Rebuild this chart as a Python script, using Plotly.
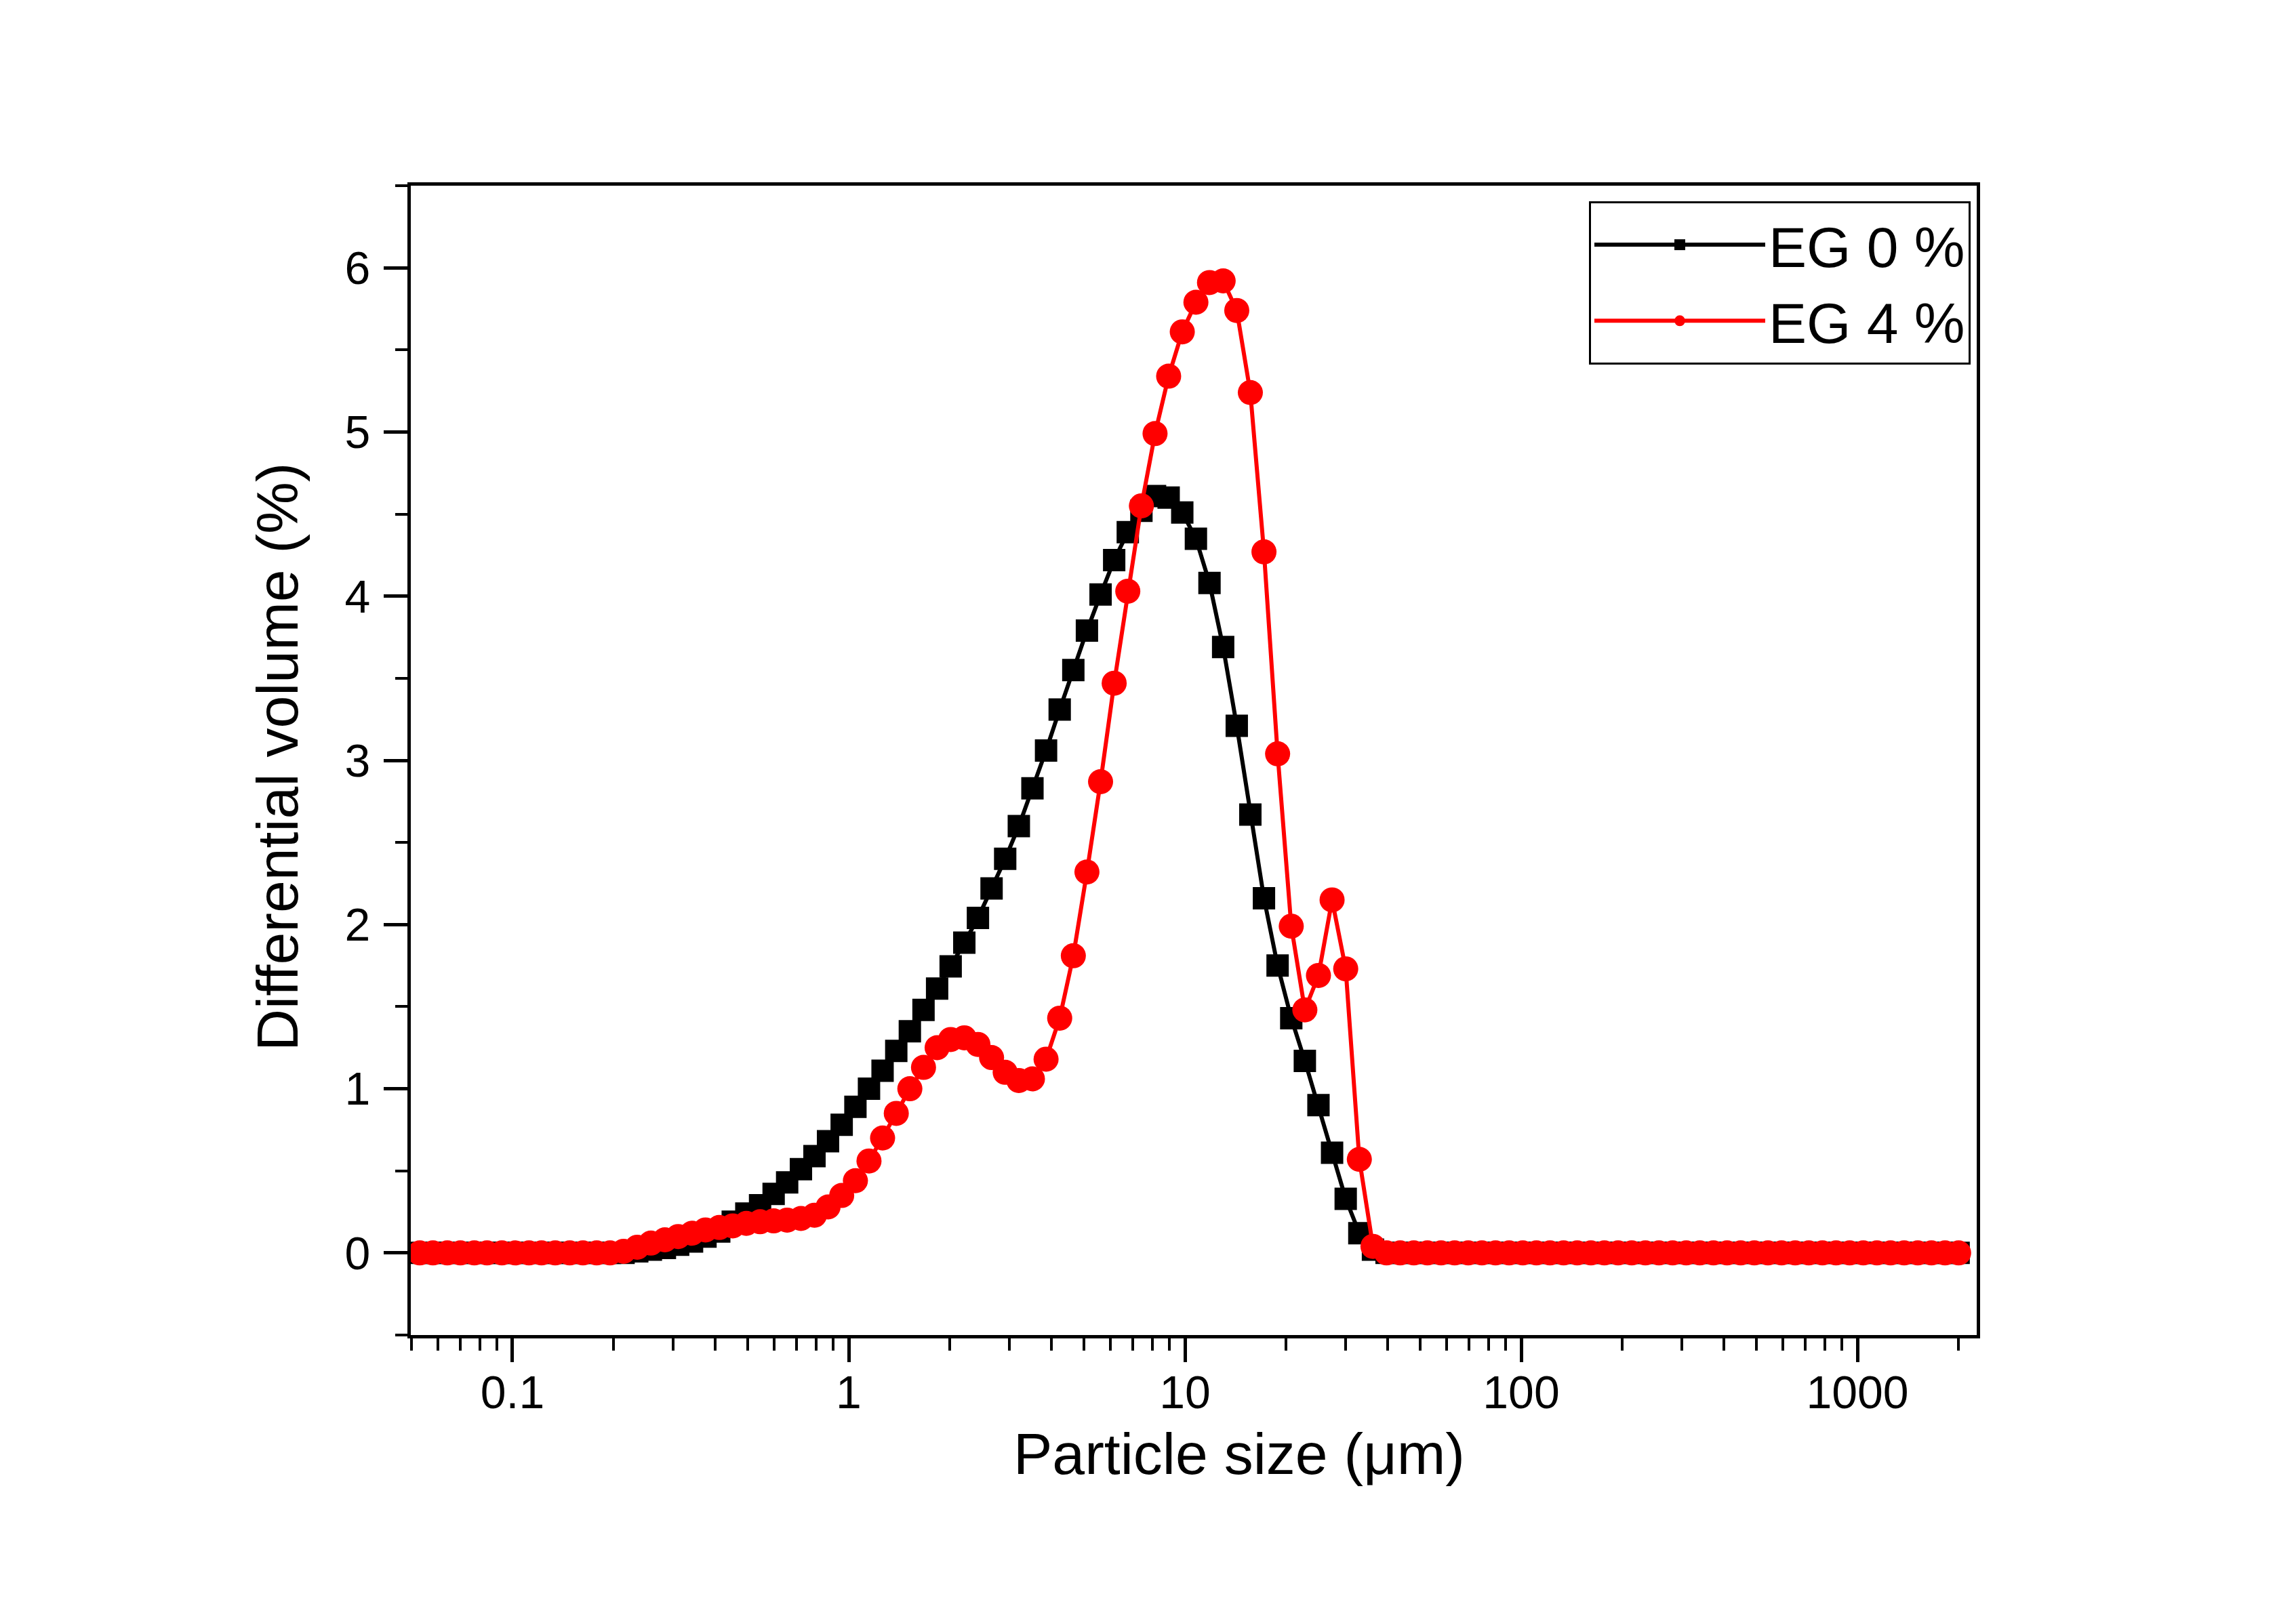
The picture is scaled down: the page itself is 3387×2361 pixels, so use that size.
import plotly.graph_objects as go

# Particle-size channels (µm)
sizes = [0.053, 0.058, 0.064, 0.070, 0.077, 0.084, 0.093, 0.102, 0.112, 0.122,
         0.134, 0.148, 0.162, 0.178, 0.195, 0.214, 0.235, 0.258, 0.284, 0.311,
         0.342, 0.375, 0.412, 0.452, 0.496, 0.545, 0.598, 0.656, 0.721, 0.791,
         0.868, 0.953, 1.047, 1.149, 1.261, 1.385, 1.520, 1.669, 1.832, 2.010,
         2.207, 2.423, 2.660, 2.920, 3.206, 3.519, 3.863, 4.241, 4.656, 5.111,
         5.611, 6.159, 6.761, 7.422, 8.148, 8.944, 9.819, 10.78, 11.83, 12.99,
         14.26, 15.65, 17.18, 18.86, 20.71, 22.73, 24.95, 27.39, 30.07, 33.01,
         36.24, 39.78, 43.67, 47.94, 52.62, 57.77, 63.41, 69.61, 76.42, 83.89,
         92.09, 101.1, 111.0, 121.8, 133.7, 146.8, 161.2, 176.8, 194.2, 213.2,
         234.1, 256.9, 282.1, 309.6, 339.9, 373.1, 409.6, 449.7, 493.6, 541.9,
         594.9, 653.0, 716.8, 786.9, 863.9, 948.3, 1041, 1143, 1255, 1377,
         1512, 1660, 1822, 2000]

eg0 = [0, 0, 0, 0, 0, 0, 0, 0, 0, 0,
       0, 0, 0, 0, 0, 0, 0.01, 0.02, 0.03, 0.05,
       0.07, 0.10, 0.13, 0.19, 0.24, 0.29, 0.36, 0.43, 0.51, 0.59,
       0.68, 0.78, 0.89, 1.00, 1.11, 1.23, 1.35, 1.48, 1.61, 1.745,
       1.89, 2.04, 2.22, 2.40, 2.60, 2.83, 3.06, 3.31, 3.55, 3.79,
       4.01, 4.22, 4.39, 4.52, 4.61, 4.60, 4.51, 4.35, 4.08, 3.69,
       3.21, 2.67, 2.16, 1.75, 1.43, 1.17, 0.90, 0.61, 0.33, 0.12,
       0.02, 0, 0, 0, 0, 0, 0, 0, 0, 0,
       0, 0, 0, 0, 0, 0, 0, 0, 0, 0,
       0, 0, 0, 0, 0, 0, 0, 0, 0, 0,
       0, 0, 0, 0, 0, 0, 0, 0, 0, 0,
       0, 0, 0, 0]

eg4 = [0, 0, 0, 0, 0, 0, 0, 0, 0, 0,
       0, 0, 0, 0, 0, 0.01, 0.035, 0.06, 0.08, 0.10,
       0.12, 0.14, 0.155, 0.165, 0.18, 0.19, 0.195, 0.20, 0.21, 0.23,
       0.28, 0.35, 0.44, 0.56, 0.70, 0.85, 1.00, 1.13, 1.25, 1.30,
       1.31, 1.27, 1.19, 1.10, 1.05, 1.06, 1.18, 1.43, 1.81, 2.32,
       2.87, 3.47, 4.03, 4.55, 4.99, 5.34, 5.61, 5.79, 5.91, 5.92,
       5.74, 5.24, 4.27, 3.04, 1.99, 1.48, 1.69, 2.15, 1.73, 0.57,
       0.04, 0, 0, 0, 0, 0, 0, 0, 0, 0,
       0, 0, 0, 0, 0, 0, 0, 0, 0, 0,
       0, 0, 0, 0, 0, 0, 0, 0, 0, 0,
       0, 0, 0, 0, 0, 0, 0, 0, 0, 0,
       0, 0, 0, 0]

x_ticks = [0.1, 1, 10, 100, 1000]
x_ticktext = ["0.1", "1", "10", "100", "1000"]
x_minor = [m * 10 ** e for e in range(-2, 4) for m in range(2, 10)
           if 0.05 <= m * 10 ** e <= 2200]
y_ticks = [0, 1, 2, 3, 4, 5, 6]
y_minor = [-0.5, 0.5, 1.5, 2.5, 3.5, 4.5, 5.5, 6.5]

FONT = "Arial, Liberation Sans, sans-serif"

fig = go.Figure()
fig.add_trace(go.Scatter(
    x=sizes, y=eg0, mode="lines+markers", name="EG 0 %",
    line=dict(color="black", width=6),
    marker=dict(symbol="square", size=33, color="black"),
))
fig.add_trace(go.Scatter(
    x=sizes, y=eg4, mode="lines+markers", name="EG 4 %",
    line=dict(color="#ff0000", width=6),
    marker=dict(symbol="circle", size=37, color="#ff0000"),
))

OFF = 8  # default page body margin
W, H = 3387 - 2 * OFF, 2361 - 2 * OFF
L, R, T, B = 606 - OFF, 2916 - OFF, 274 - OFF, 1970 - OFF

fig.update_layout(
    width=W, height=H,
    paper_bgcolor="white", plot_bgcolor="white",
    margin=dict(l=L, r=W - R, t=T, b=H - B, pad=0),
    font=dict(family=FONT, color="black", size=68),
    showlegend=True,
    legend=dict(
        x=(2907 - OFF - L) / (R - L), y=(B - (297 - OFF)) / (B - T),
        xanchor="right", yanchor="top",
        bgcolor="white", bordercolor="black", borderwidth=3,
        font=dict(family=FONT, size=84, color="black"),
        itemwidth=252, tracegroupgap=0,
    ),
    xaxis=dict(
        type="log", range=[-1.3024, 3.3548],
        showgrid=False, zeroline=False,
        showline=True, linecolor="black", linewidth=5, mirror=True,
        ticks="outside", ticklen=35, tickwidth=5, tickcolor="black",
        tickvals=x_ticks, ticktext=x_ticktext, ticklabelstandoff=-14,
        tickfont=dict(family=FONT, size=68, color="black"),
        minor=dict(tickvals=x_minor, ticks="outside", ticklen=18,
                   tickwidth=4, tickcolor="black", showgrid=False),
    ),
    yaxis=dict(
        range=[-0.5, 6.5],
        showgrid=False, zeroline=False,
        showline=True, linecolor="black", linewidth=5, mirror=True,
        ticks="outside", ticklen=35, tickwidth=5, tickcolor="black",
        tickvals=y_ticks, ticklabelstandoff=6,
        tickfont=dict(family=FONT, size=68, color="black"),
        minor=dict(tickvals=y_minor, ticks="outside", ticklen=18,
                   tickwidth=4, tickcolor="black", showgrid=False),
    ),
    annotations=[
        dict(text="Particle size (μm)", xref="paper", yref="paper",
             x=(1828 - OFF - L) / (R - L), y=(B - (2145 - OFF)) / (B - T),
             xanchor="center", yanchor="middle", showarrow=False,
             font=dict(family=FONT, size=86, color="black")),
        dict(text="Differential volume (%)", xref="paper", yref="paper",
             x=(409 - OFF - L) / (R - L), y=(B - (1117 - OFF)) / (B - T),
             xanchor="center", yanchor="middle", showarrow=False,
             textangle=-90,
             font=dict(family=FONT, size=86, color="black")),
    ],
)

fig.write_html("out.html")
